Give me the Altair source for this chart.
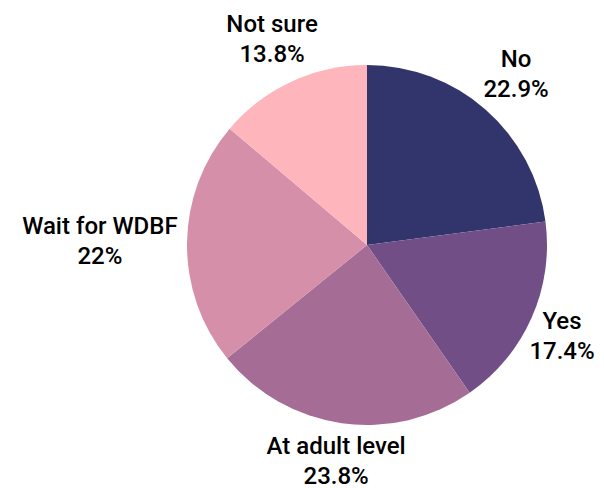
import math
import altair as alt
import pandas as pd

categories = ["No", "Yes", "At adult level", "Wait for WDBF", "Not sure"]
values = [22.9, 17.4, 23.8, 22.0, 13.8]
colors = ["#31356b", "#724e87", "#a56c95", "#d58fa9", "#feb5bb"]

# layout parameters (not data)
R = 180
W = H = 2 * R
PAD = {"left": 179, "top": 57, "right": 49, "bottom": 63}
FONT_SIZE = 24
LINE_H = 30
GAP = 10
HALF_H = 19
X_MAX = W + PAD["right"] - 1  # rightmost pixel a label may reach


def text_width_em(s):
    """Rough width of a string in em units for the label font."""
    w = 0.0
    for ch in s:
        if ch in " .":
            w += 0.25
        elif ch in "iljtfr":
            w += 0.29
        elif ch in "WM%":
            w += 0.85
        elif ch.isupper():
            w += 0.65
        else:
            w += 0.55
    return w


texts = []
half_w = []
for cat, v in zip(categories, values):
    pct = f"{v:g}%"
    texts.append(f"{cat}\n{pct}")
    half_w.append(max(text_width_em(cat), text_width_em(pct)) * FONT_SIZE / 2)

df = pd.DataFrame({
    "category": categories,
    "value": values,
    "idx": list(range(len(categories))),
    "text": texts,
    "hw": half_w,
})

pie = alt.Chart(df).mark_arc(outerRadius=R, stroke=None).encode(
    theta=alt.Theta("value:Q", stack=True),
    order=alt.Order("idx:Q"),
    color=alt.Color("category:N", scale=alt.Scale(domain=categories, range=colors), legend=None),
)

labels = alt.Chart(df).transform_window(
    cum="sum(value)", sort=[alt.SortField("idx")], frame=[None, 0]
).transform_joinaggregate(
    total="sum(value)"
).transform_calculate(
    mid="(datum.cum - datum.value / 2) / datum.total * 2 * PI",
).transform_calculate(
    lr=f"{R + GAP} + datum.hw * abs(sin(datum.mid)) + {HALF_H} * abs(cos(datum.mid))"
).transform_calculate(
    lx=f"min({W / 2} + datum.lr * sin(datum.mid), {X_MAX} - datum.hw)",
    ly=f"{H / 2} - datum.lr * cos(datum.mid)",
).mark_text(
    font="Roboto",
    fontSize=FONT_SIZE,
    fontWeight=500,
    lineBreak="\n",
    lineHeight=LINE_H,
    align="center",
    baseline="middle",
    dy=-LINE_H / 2,
    color="#000000",
).encode(
    x=alt.X("lx:Q", scale=None),
    y=alt.Y("ly:Q", scale=None),
    text="text:N",
)

chart = alt.layer(pie, labels).properties(
    width=W,
    height=H,
    autosize=alt.AutoSizeParams(type="none"),
    padding=PAD,
    background="white",
).configure_view(strokeWidth=0, stroke="transparent")

chart.save("out.html", embed_options={"renderer": "svg", "actions": False})
